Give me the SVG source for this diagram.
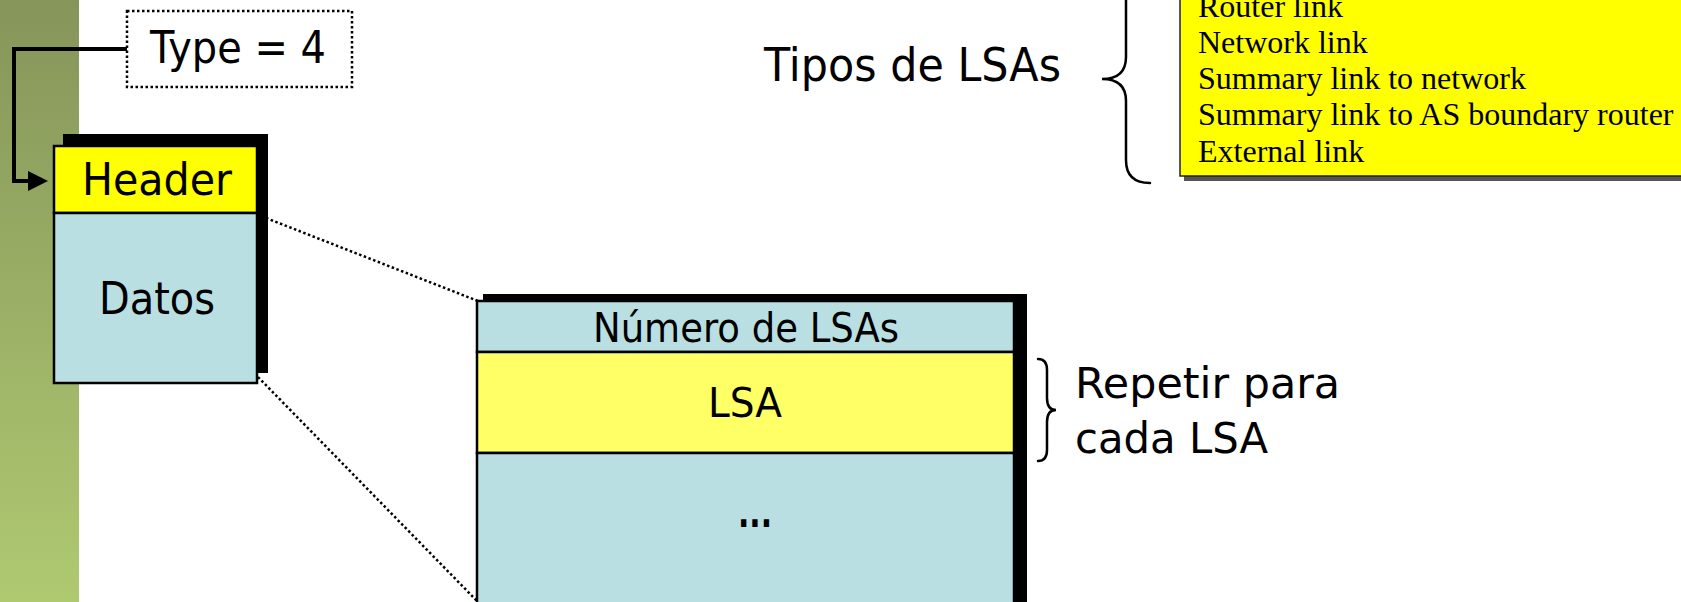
<svg xmlns="http://www.w3.org/2000/svg" width="1681" height="602" viewBox="0 0 1681 602">
  <defs>
    <linearGradient id="band" x1="0" y1="0" x2="0" y2="1">
      <stop offset="0" stop-color="#86955a"/>
      <stop offset="1" stop-color="#afc971"/>
    </linearGradient>
    <linearGradient id="shade" x1="0" y1="0" x2="0" y2="1">
      <stop offset="0" stop-color="#111"/>
      <stop offset="1" stop-color="#555"/>
    </linearGradient>
    <marker id="arrow" markerWidth="5" markerHeight="5" refX="4" refY="2.5" orient="auto" markerUnits="strokeWidth">
      <path d="M0,0 L5,2.5 L0,5 Z" fill="#000"/>
    </marker>
  </defs>
  <style>
    .hand { font-family: "DejaVu Sans", "Noto Sans", sans-serif; fill: #000; }
    .serif { font-family: "Liberation Serif", "DejaVu Serif", serif; font-size: 32px; fill: #000; }
    .cell { stroke: #000; stroke-width: 2.5; }
    .blue { fill: #b9dfe2; }
    .yel { fill: #ffff00; }
    .yel2 { fill: #ffff66; }
    .dots { fill: none; stroke: #000; stroke-width: 2.5; stroke-dasharray: 2.5 2.5; }
    .brace { fill: none; stroke: #000; stroke-width: 2.5; stroke-linecap: round; }
  </style>

  <rect width="1681" height="602" fill="#fff"/>
  <rect x="0" y="0" width="79" height="602" fill="url(#band)"/>

  <g id="connectors">
    <path d="M127,49 H14 V181 H44" fill="none" stroke="#000" stroke-width="4" marker-end="url(#arrow)"/>
    <line class="dots" x1="266" y1="218" x2="478" y2="301"/>
    <line class="dots" x1="258" y1="377" x2="478" y2="602"/>
  </g>

  <g id="type-label">
    <rect x="127" y="11" width="225" height="76" fill="#fff" stroke="#000" stroke-width="2.5" stroke-dasharray="2.5 2.5"/>
    <text class="hand" x="150" y="63" font-size="44" textLength="176" lengthAdjust="spacingAndGlyphs">Type = 4</text>
  </g>

  <g id="packet">
    <rect x="63" y="134" width="205" height="239" fill="#000"/>
    <rect class="cell yel" x="54" y="146" width="203" height="67"/>
    <rect class="cell blue" x="54" y="213" width="203" height="170"/>
    <text class="hand" x="82" y="195" font-size="44" textLength="150" lengthAdjust="spacingAndGlyphs">Header</text>
    <text class="hand" x="99" y="314" font-size="44" textLength="116" lengthAdjust="spacingAndGlyphs">Datos</text>
  </g>

  <g id="lsa-update">
    <rect x="483" y="294" width="544" height="320" fill="#000"/>
    <rect class="cell blue" x="477" y="301" width="537" height="51"/>
    <rect class="cell yel2" x="477" y="352" width="537" height="101"/>
    <rect class="cell blue" x="477" y="453" width="537" height="160"/>
    <text class="hand" x="593" y="342" font-size="40" textLength="306" lengthAdjust="spacingAndGlyphs">Número de LSAs</text>
    <text class="hand" x="708" y="417" font-size="40" textLength="74" lengthAdjust="spacingAndGlyphs">LSA</text>
    <text class="hand" x="738" y="527" font-size="40" font-weight="bold" textLength="34" lengthAdjust="spacingAndGlyphs">...</text>
  </g>

  <g id="tipos">
    <text class="hand" x="764" y="81" font-size="46" textLength="297" lengthAdjust="spacingAndGlyphs">Tipos de LSAs</text>
    <path class="brace" d="M1126,-10 V57 Q1126,79 1102,79 Q1126,79 1126,101 V160 Q1126,183 1150,183"/>
  </g>

  <g id="lsa-types">
    <rect x="1184" y="-5" width="510" height="186" fill="url(#shade)"/>
    <rect x="1180" y="-10" width="510" height="186" fill="#ffff00" stroke="#222" stroke-width="1.5"/>
    <text class="serif" x="1198" y="17">Router link</text>
    <text class="serif" x="1198" y="53">Network link</text>
    <text class="serif" x="1198" y="89">Summary link to network</text>
    <text class="serif" x="1198" y="125">Summary link to AS boundary router</text>
    <text class="serif" x="1198" y="162">External link</text>
  </g>

  <g id="repetir">
    <path class="brace" stroke-width="2" d="M1038,359 Q1047,359 1047,370 V398 Q1047,410 1056,410 Q1047,410 1047,422 V450 Q1047,461 1038,461"/>
    <text class="hand" x="1075" y="398" font-size="42" textLength="265" lengthAdjust="spacingAndGlyphs">Repetir para</text>
    <text class="hand" x="1075" y="453" font-size="42" textLength="193" lengthAdjust="spacingAndGlyphs">cada LSA</text>
  </g>
</svg>
